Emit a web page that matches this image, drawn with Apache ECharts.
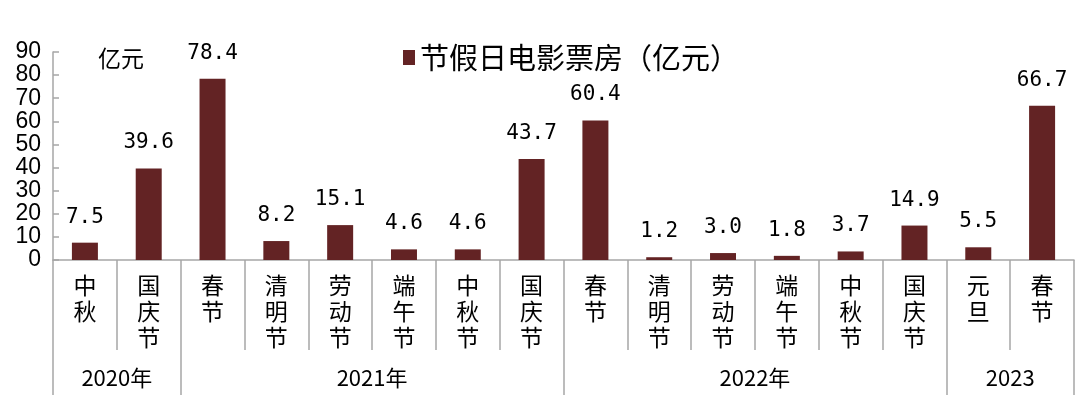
<!DOCTYPE html>
<html><head><meta charset="utf-8">
<script src="https://cdn.jsdelivr.net/npm/echarts@6/dist/echarts.min.js"></script>
<style>html,body{margin:0;padding:0;background:#fff}#c{width:1080px;height:405px}</style>
</head><body><div id="c"></div>
<script>
const categories = ['中秋','国庆节','春节','清明节','劳动节','端午节','中秋节','国庆节','春节','清明节','劳动节','端午节','中秋节','国庆节','元旦','春节'];
const values = [7.5, 39.6, 78.4, 8.2, 15.1, 4.6, 4.6, 43.7, 60.4, 1.2, 3.0, 1.8, 3.7, 14.9, 5.5, 66.7];
const yearLabels = ['2020年','2021年','2022年','2023'];
const yearBounds = [0, 2, 8, 14, 16];
const yearCenters = [1, 5, 11, 15];
const seriesName = '节假日电影票房（亿元）';
const unitLabel = '亿元';

const chart = echarts.init(document.getElementById('c'));
const axisColor = '#A6A6A6';
const cjk = '"Noto Sans CJK SC", sans-serif';
chart.setOption({
  animation: false,
  grid: {left: 53, right: 6, top: 52, bottom: 145},
  legend: {
    top: 38, left: 398,
    itemWidth: 12, itemHeight: 15, itemGap: 10,
    textStyle: {fontFamily: cjk, fontSize: 29, color: '#000'},
    data: [{name: seriesName, icon: 'rect'}]
  },
  graphic: [{
    type: 'text', left: 98, top: 47,
    style: {text: unitLabel, fontFamily: cjk, fontSize: 23, fill: '#000'}
  }],
  xAxis: [{
    type: 'category',
    data: categories,
    axisLine: {lineStyle: {color: axisColor, width: 1.5}},
    axisTick: {show: true, interval: 0, length: 90, lineStyle: {color: axisColor, width: 1.5}},
    axisLabel: {
      interval: 0, margin: 12,
      fontFamily: cjk, fontSize: 23, lineHeight: 26, color: '#000',
      formatter: v => v.split('').join('\n')
    }
  }, {
    type: 'value',
    min: 0, max: 16,
    position: 'bottom',
    axisLine: {show: false},
    splitLine: {show: false},
    axisTick: {show: true, length: 135, customValues: yearBounds, lineStyle: {color: axisColor, width: 1.5}},
    axisLabel: {
      customValues: yearCenters, margin: 107,
      fontFamily: cjk, fontSize: 22, color: '#000',
      formatter: v => yearLabels[yearCenters.indexOf(Math.round(v))] || ''
    }
  }],
  yAxis: {
    type: 'value', min: 0, max: 90, interval: 10,
    axisLine: {show: true, lineStyle: {color: axisColor, width: 1.5}},
    axisTick: {show: true, inside: true, length: 6, lineStyle: {color: axisColor, width: 1.5}},
    splitLine: {show: false},
    axisLabel: {fontFamily: '"Liberation Sans", Arial, sans-serif', fontSize: 23, color: '#000', margin: 12}
  },
  series: [{
    name: seriesName,
    type: 'bar',
    xAxisIndex: 0,
    data: values,
    barWidth: 26,
    itemStyle: {color: '#632324'},
    label: {
      show: true, position: 'top', distance: 15,
      fontFamily: '"DejaVu Sans Mono", monospace', fontSize: 21, color: '#000',
      formatter: p => p.value.toFixed(1)
    }
  }]
});
</script></body></html>
